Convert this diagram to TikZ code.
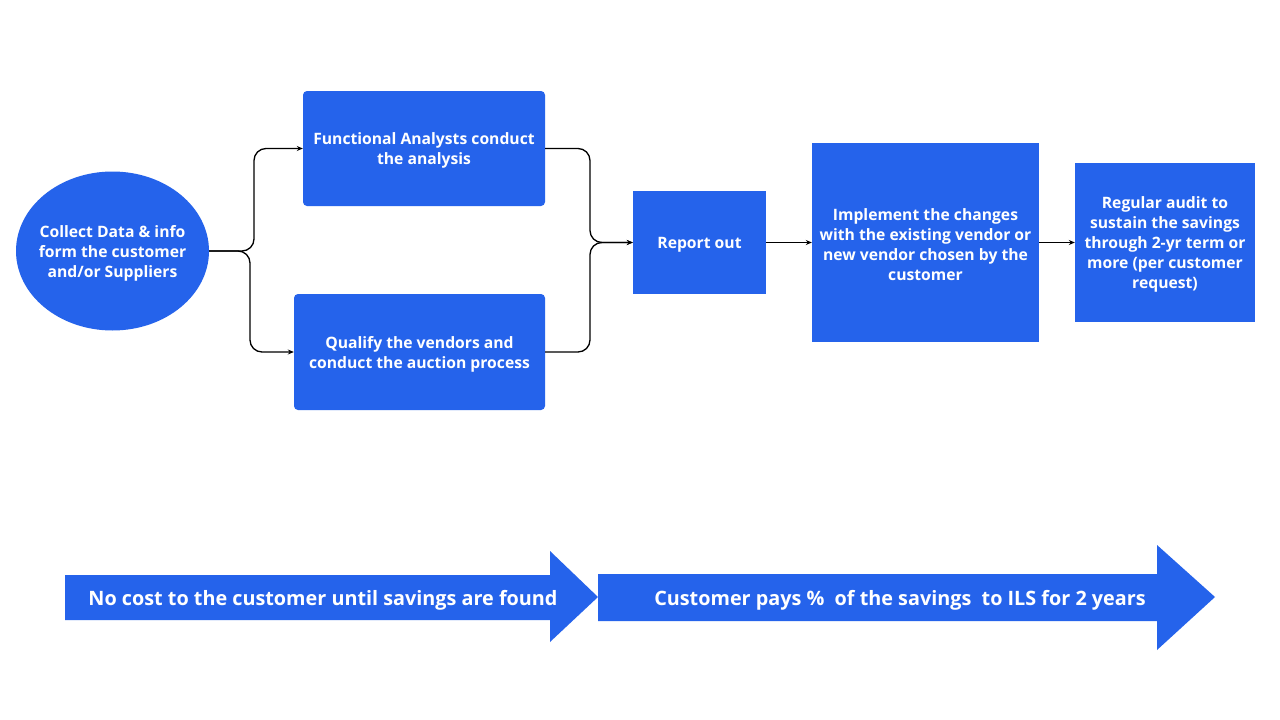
\documentclass[tikz,border=0pt]{standalone}
\usepackage{fontspec}
\setmainfont{Open Sans}
\usetikzlibrary{shapes.geometric,arrows.meta}
\definecolor{cblue}{RGB}{37,99,235}
\tikzset{
  stepbox/.style={fill=cblue,inner sep=0pt},
  steptext/.style={text=white,font=\bfseries\fontsize{15.7}{19.8}\selectfont,align=center,inner sep=0pt},
  conn/.style={draw=black,line width=1.3pt,rounded corners=12pt,-{Stealth[length=6pt,width=5pt]}},
  bandtext/.style={text=white,font=\bfseries\fontsize{19.8}{22}\selectfont,inner sep=0pt,anchor=center}
}
\begin{document}
\begin{tikzpicture}[x=1pt,y=-1pt]
\useasboundingbox[fill=white] (0,0) rectangle (1280,720);
% boxes
\node[stepbox,ellipse,minimum width=193pt,minimum height=159pt] (coll) at (112.5,251) {};
\node[stepbox,rounded corners=4pt,minimum width=242pt,minimum height=115pt] (fa) at (424,148.5) {};
\node[stepbox,rounded corners=4pt,minimum width=251pt,minimum height=116pt] (qv) at (419.5,352) {};
\node[stepbox,minimum width=133pt,minimum height=103pt] (ro) at (699.5,242.5) {};
\node[stepbox,minimum width=227pt,minimum height=199pt] (im) at (925.5,242.5) {};
\node[stepbox,minimum width=180pt,minimum height=159pt] (au) at (1165,242.5) {};
% texts
\node[steptext] (collt) at (112.5,253.5) {Collect Data \& info\\form the customer\\and/or Suppliers};
\node[steptext] (fat) at (424,150.5) {Functional Analysts conduct\\the analysis};
\node[steptext] (qvt) at (419.5,354) {Qualify the vendors and\\conduct the auction process};
\node[steptext] (rot) at (699.5,245) {Report out};
\node[steptext] (imt) at (925.5,244.5) {Implement the changes\\with the existing vendor or\\new vendor chosen by the\\customer};
\node[steptext] (aut) at (1165,244.5) {Regular audit to\\sustain the savings\\through 2-yr term or\\more (per customer\\request)};
% connectors
\draw[conn] (coll.east) -- (254,251) |- (fa.west);
\draw[conn] (coll.east) -- (250,251) |- (qv.west);
\draw[conn] (fa.east) -- (590,148.5) |- (ro.west);
\draw[conn] (qv.east) -- (590,352) |- (ro.west);
\draw[conn] (ro.east) -- (im.west |- ro.east);
\draw[conn] (im.east |- ro.east) -- (au.west |- ro.east);
% bottom arrows
\fill[cblue] (65,575) -- (550,575) -- (550,551) -- (598,597) -- (550,642) -- (550,620) -- (65,620) -- cycle;
\fill[cblue] (598,574) -- (1157,574) -- (1157,545) -- (1215,597) -- (1157,650) -- (1157,621) -- (598,621) -- cycle;
\node[bandtext] (t1) at (323,600) {No cost to the customer until savings are found};
\node[bandtext] (t2) at (900,600) {Customer pays \%~ of the savings~ to ILS for 2 years};
\end{tikzpicture}
\end{document}
